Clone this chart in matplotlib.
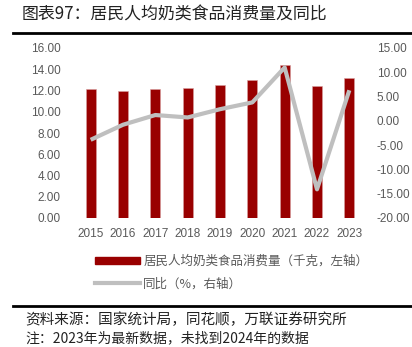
import matplotlib
matplotlib.use("Agg")
import matplotlib.pyplot as plt
from matplotlib.patches import Patch
from matplotlib.lines import Line2D

plt.rcParams['font.family'] = ['Noto Sans CJK SC', 'DejaVu Sans']

years = ["2015", "2016", "2017", "2018", "2019", "2020", "2021", "2022", "2023"]
consumption = [12.1, 12.0, 12.1, 12.2, 12.5, 13.0, 14.4, 12.4, 13.2]
yoy = [-3.9, -0.8, 1.2, 0.7, 2.4, 3.8, 11.0, -14.1, 6.3]

left_ticks = [0, 2, 4, 6, 8, 10, 12, 14, 16]
right_ticks = [-20, -15, -10, -5, 0, 5, 10, 15]

W, H = 412, 347
fig = plt.figure(figsize=(W / 100, H / 100), dpi=100)

bar_color = "#990000"
line_color = "#BFBFBF"
tick_color = "#595959"

ax = fig.add_axes([74.5 / W, 1 - 218 / H, 291 / W, 170 / H])
x = list(range(len(years)))
ax.bar(x, consumption, width=0.31, color=bar_color, edgecolor="#d9a0a0", linewidth=0.4, zorder=2)
ax.set_ylim(0, 16)
ax.set_xlim(-0.5, len(years) - 0.5)
ax.set_yticks(left_ticks)
ax.set_yticklabels([f"{v:.2f}" for v in left_ticks], family="Liberation Sans")
ax.set_xticks(x)
ax.set_xticklabels(years, family="Liberation Sans")
ax.tick_params(axis="both", length=0, colors=tick_color, labelsize=8.5)
ax.tick_params(axis="y", pad=10)
ax.tick_params(axis="x", pad=7)
for s in ax.spines.values():
    s.set_visible(False)

ax2 = ax.twinx()
ax2.plot(x, yoy, color=line_color, linewidth=3, solid_capstyle="butt", zorder=3)
ax2.set_ylim(-20, 15)
ax2.set_yticks(right_ticks)
ax2.set_yticklabels([f"{v:.2f}" for v in right_ticks], family="Liberation Sans")
ax2.tick_params(axis="y", length=0, colors=tick_color, labelsize=8.5, pad=8)
for s in ax2.spines.values():
    s.set_visible(False)

# Title
fig.text(22 / W, 1 - 15 / H, "图表97：居民人均奶类食品消费量及同比", fontsize=12.2,
         va="center", ha="left", color="#222222")
fig.add_artist(Line2D([13 / W, 1], [1 - 33 / H, 1 - 33 / H], color="black", linewidth=2))

# Legend
handles = [Patch(facecolor=bar_color, edgecolor=bar_color),
           Line2D([0], [0], color=line_color, linewidth=3)]
labels = ["居民人均奶类食品消费量（千克，左轴）", "同比（%，右轴）"]
leg = fig.legend(handles, labels, loc="upper left", bbox_to_anchor=(90 / W, 1 - 250 / H),
                 frameon=False, fontsize=9, handlelength=3.6, handleheight=0.55,
                 handletextpad=0.25, labelspacing=0.75, borderaxespad=0)
for t in leg.get_texts():
    t.set_color(tick_color)

# Bottom rule and source
fig.add_artist(Line2D([13 / W, 1], [1 - 306 / H, 1 - 306 / H], color="black", linewidth=2))
fig.text(25 / W, 1 - 320 / H, "资料来源：国家统计局，同花顺，万联证券研究所", fontsize=10.5,
         va="center", ha="left", style="italic", color="#222222")
fig.text(25 / W, 1 - 338 / H, "注：2023年为最新数据，未找到2024年的数据", fontsize=10,
         va="center", ha="left", style="italic", color="#222222")

fig.savefig("out.png", dpi=100)
